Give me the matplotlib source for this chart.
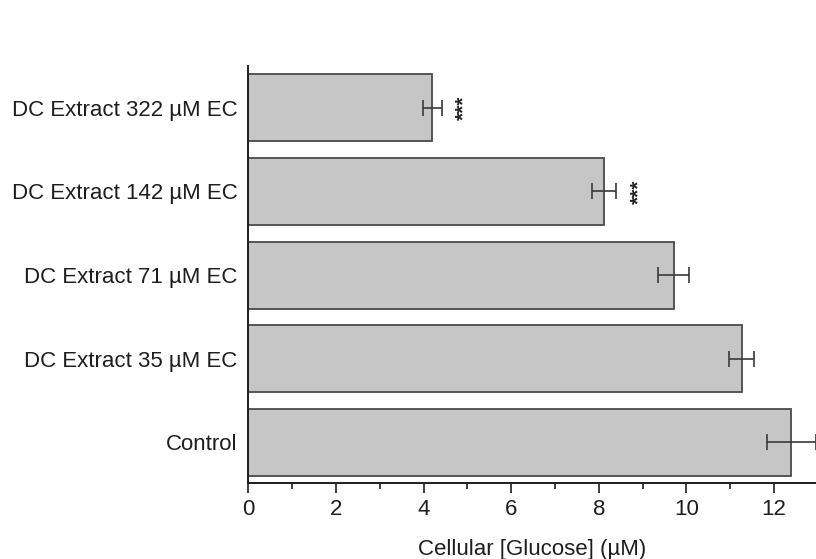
import numpy as np
import matplotlib.pyplot as plt
from matplotlib.ticker import MultipleLocator

plt.rcParams['font.family'] = ['Liberation Sans', 'DejaVu Sans']

# data, bottom to top
groups = ["Control", "DC Extract 35 µM EC", "DC Extract 71 µM EC",
          "DC Extract 142 µM EC", "DC Extract 322 µM EC"]
glucose = [12.40, 11.26, 9.71, 8.12, 4.20]
sem = [0.55, 0.29, 0.36, 0.27, 0.21]
stars = ["", "", "", "***", "***"]
star_x = [0, 0, 0, 8.92, 4.91]

fig = plt.figure(figsize=(8.16, 5.59), dpi=100)
ax = fig.add_axes([0.3045, 0.1354, 1 - 0.3045, 0.7466])

pos = np.arange(len(groups))
ax.barh(pos, glucose, height=0.8, color="#c6c6c6", edgecolor="#4a4a4a", linewidth=1.3)
ax.errorbar(glucose, pos, xerr=sem, fmt="none", ecolor="#3a3a3a",
            elinewidth=1.2, capsize=5.5, capthick=1.2)

# significance stars, written vertically
for i, s in enumerate(stars):
    if s:
        ax.text(star_x[i], pos[i], s, rotation=90, ha="center", va="center",
                fontsize=15, fontweight="bold", color="#222222")

ax.set_xlim(0, 12.96)
ax.set_ylim(-0.49, 4.5)
ax.set_yticks(pos)
ax.set_yticklabels(groups, fontsize=16, color="#1e1e1e")
ax.tick_params(axis="y", length=0, pad=8)
ax.xaxis.set_major_locator(MultipleLocator(2))
ax.xaxis.set_minor_locator(MultipleLocator(1))
ax.tick_params(axis="x", which="major", length=7, width=1.2, labelsize=16,
               colors="#1e1e1e", pad=4)
ax.tick_params(axis="x", which="minor", length=4, width=1.2, colors="#1e1e1e")

for side in ["top", "right"]:
    ax.spines[side].set_visible(False)
for side in ["left", "bottom"]:
    ax.spines[side].set_linewidth(1.4)
    ax.spines[side].set_color("#1e1e1e")

ax.set_xlabel("Cellular [Glucose] (µM)", fontsize=16, color="#1e1e1e", labelpad=14)

fig.savefig("out.png", dpi=100)
